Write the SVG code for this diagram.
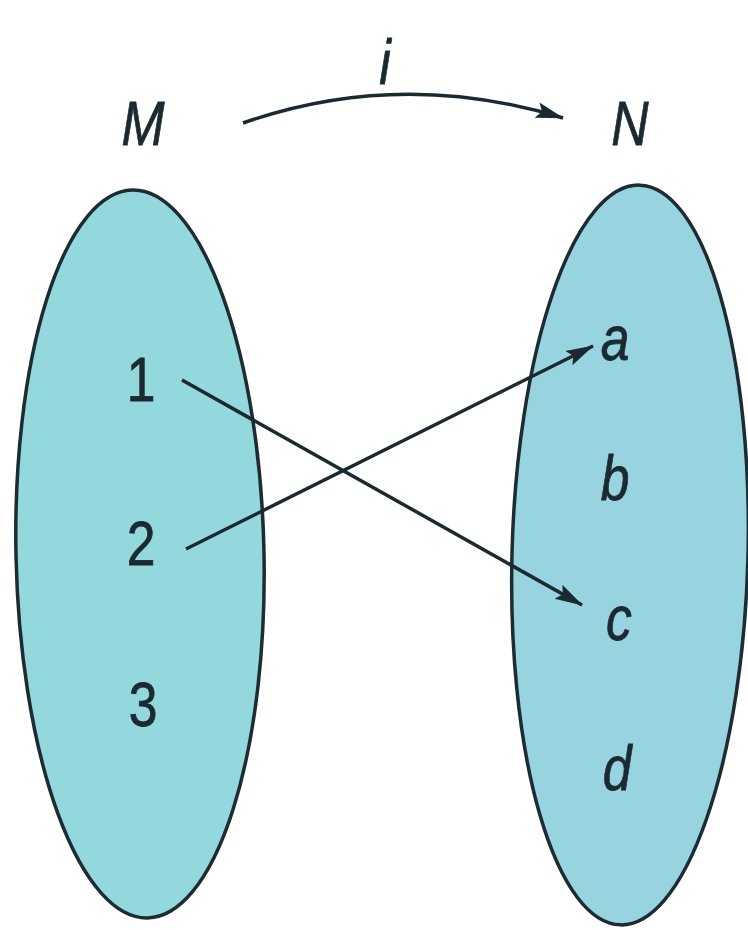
<svg xmlns="http://www.w3.org/2000/svg" width="748" height="930" viewBox="0 0 748 930">
<defs>
<marker id="ah2" markerWidth="28" markerHeight="18" refX="27" refY="9" orient="auto" markerUnits="userSpaceOnUse" viewBox="0 0 28 18">
<path d="M0,1 L28,9 L0,17 L5,9 Z" fill="#1b2a30"/>
</marker>
</defs>
<style>
.set{stroke:#1d2c32;stroke-width:3.5}
.lbl{font-family:"Liberation Sans",Arial,sans-serif;font-size:63px;fill:#1b2a30;stroke:#1b2a30;stroke-width:0.8;text-anchor:middle}
.it{font-style:italic}
.con{fill:none;stroke:#1b2a30;stroke-width:3.5}
</style>
<rect width="748" height="930" fill="#ffffff"/>
<g id="setM">
<ellipse class="set" cx="140" cy="554" rx="124" ry="364" fill="#93d8dc" transform="rotate(-1.2 140 554)"/>
<text class="lbl it" x="143" y="145" transform="translate(143 0) scale(0.82 1) translate(-143 0)">M</text>
<text class="lbl" x="141" y="401" transform="translate(141 0) scale(0.82 1) translate(-141 0)">1</text>
<text class="lbl" x="141" y="565" transform="translate(141 0) scale(0.82 1) translate(-141 0)">2</text>
<text class="lbl" x="143" y="726" transform="translate(143 0) scale(0.82 1) translate(-143 0)">3</text>
</g>
<g id="setN">
<ellipse class="set" cx="630" cy="555" rx="118" ry="370" fill="#98d3e0" transform="rotate(1.5 630 555)"/>
<text class="lbl it" x="630" y="145" transform="translate(630 0) scale(0.82 1) translate(-630 0)">N</text>
<text class="lbl it" x="615" y="360" transform="translate(615 0) scale(0.82 1) translate(-615 0)">a</text>
<text class="lbl it" x="615" y="500" transform="translate(615 0) scale(0.82 1) translate(-615 0)">b</text>
<text class="lbl it" x="619" y="640" transform="translate(619 0) scale(0.82 1) translate(-619 0)">c</text>
<text class="lbl it" x="617" y="790" transform="translate(617 0) scale(0.82 1) translate(-617 0)">d</text>
</g>
<g id="connectors">
<path class="con" d="M243,123 Q400,68 563,118" marker-end="url(#ah2)"/>
<text class="lbl it" x="385" y="84" transform="translate(385 0) scale(0.82 1) translate(-385 0)">i</text>
<line class="con" x1="182" y1="380" x2="582" y2="605" marker-end="url(#ah2)"/>
<line class="con" x1="186" y1="549" x2="593" y2="346" marker-end="url(#ah2)"/>
</g>
</svg>
